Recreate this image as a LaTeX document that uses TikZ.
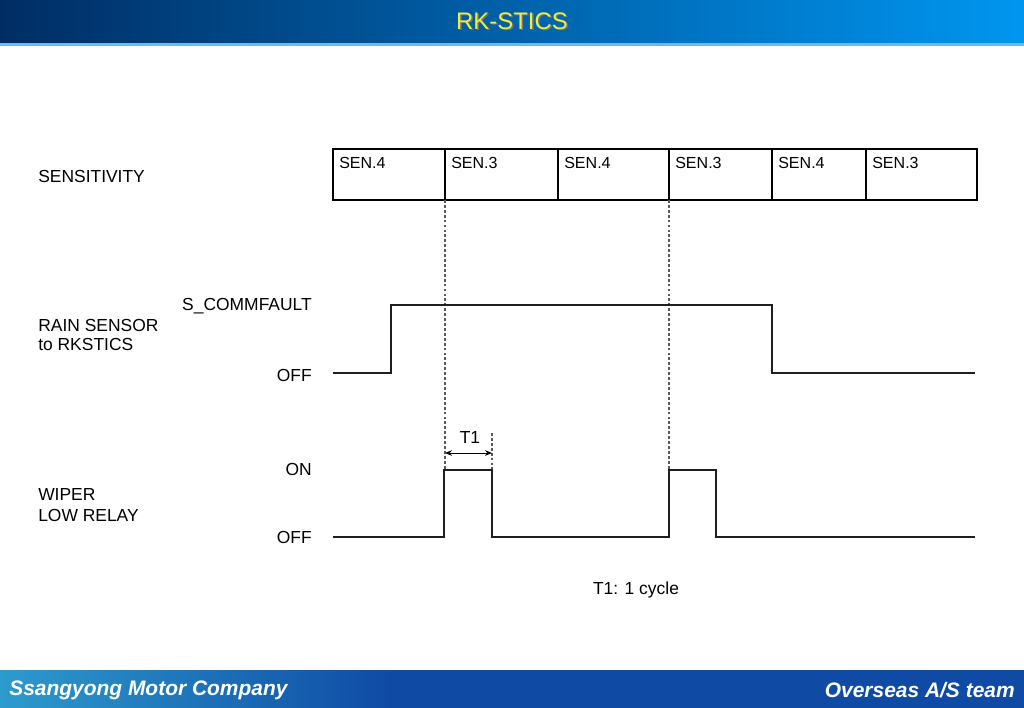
\documentclass[tikz,border=0pt]{standalone}
\usepackage{fontspec}
\setmainfont{Liberation Sans}
\usepackage{xcolor}
\definecolor{HeadDark}{RGB}{0,45,100}
\definecolor{HeadLight}{RGB}{0,150,240}
\definecolor{HeadLine}{RGB}{110,185,240}
\definecolor{TitleYellow}{RGB}{235,240,60}
\definecolor{FootMid}{RGB}{45,155,205}
\definecolor{FootCyan}{RGB}{95,200,225}
\definecolor{FootDark}{RGB}{15,75,165}
\definecolor{SigGray}{RGB}{30,30,30}
\usepackage{tikz}
\usetikzlibrary{arrows.meta,positioning}

\tikzset{
  lbl/.style={font=\fontsize{12.4}{14}\selectfont, anchor=base west, inner sep=0pt},
  lvl/.style={font=\fontsize{12.4}{14}\selectfont, anchor=east, inner sep=0pt},
  sentext/.style={font=\fontsize{11.4}{13}\selectfont, anchor=west, inner sep=0pt},
  foot/.style={font=\bfseries\itshape\fontsize{14.9}{17}\selectfont, white, inner sep=0pt},
  sig/.style={line width=1.4pt, SigGray},
  guide/.style={line width=0.8pt, black!65, dash pattern=on 2pt off 1.5pt},
}

\begin{document}
\begin{tikzpicture}[x=0.025cm,y=-0.025cm]
  \useasboundingbox (0,0) rectangle (1024,708);
  \fill[white] (0,0) rectangle (1024,708);

  \shade[left color=HeadDark,right color=HeadLight] (0,0) rectangle (1024,43);
  \fill[HeadLine] (0,43) rectangle (1024,46);
  \node[font=\fontsize{17}{20}\selectfont, black!55] (titleshadow) at (513.5,22.5) {RK-STICS};
  \node[font=\fontsize{17}{20}\selectfont, TitleYellow] (title) at (512,21) {RK-STICS};

  \shade[left color=FootMid,middle color=FootCyan,right color=FootDark] (0,670) rectangle (390,708);
  \fill[FootDark] (390,670) rectangle (1024,708);
  \node[foot, anchor=west] (company) at (9,690) {Ssangyong Motor Company};
  \node[foot, anchor=east] (team) at (1015,690) {Overseas A/S team};

  \node[lbl] (sens) at (38,183) {SENSITIVITY};
  \draw[line width=1.4pt] (333,149) rectangle (977,200);
  \foreach \x in {445,558,669,772,866}
    \draw[line width=1pt] (\x,149) -- (\x,200);
  \foreach \x/\t [count=\i] in {339/SEN.4,451/SEN.3,564/SEN.4,675/SEN.3,778/SEN.4,872/SEN.3}
    \node[sentext] (sen\i) at (\x,163) {\t};

  \coordinate (g1top) at (445,200);
  \coordinate (g1bot) at (445,470);
  \coordinate (g2top) at (669,200);
  \coordinate (g2bot) at (669,470);
  \coordinate (g3top) at (492,433);
  \coordinate (g3bot) at (492,470);
  \draw[guide] (g1top) -- (g1bot);
  \draw[guide] (g2top) -- (g2bot);
  \draw[guide] (g3top) -- (g3bot);

  \node[lbl] (rain1) at (38,331) {RAIN SENSOR};
  \node[lbl] (rain2) at (38,350) {to RKSTICS};
  \node[lvl, anchor=base east] (fault) at (312,310) {S\_COMMFAULT};
  \node[lvl] (roff) at (312,375) {OFF};
  \draw[sig] (333,373) -- (391,373) -- (391,305) -- (772,305) -- (772,373) -- (975,373);

  \node[lbl] (wip1) at (38,500) {WIPER};
  \node[lbl] (wip2) at (38,521) {LOW RELAY};
  \node[lvl] (won) at (312,469) {ON};
  \node[lvl] (woff) at (312,537) {OFF};
  \draw[sig] (333,537) -- (444,537) -- (444,470) -- (492,470) -- (492,537)
    -- (669,537) -- (669,470) -- (716,470) -- (716,537) -- (975,537);

  \coordinate (t1a) at (445,453);
  \coordinate (t1b) at (492,453);
  \draw[{Stealth[length=5pt,width=4pt]}-{Stealth[length=5pt,width=4pt]}, line width=0.7pt] (t1a) -- (t1b);
  \node[font=\fontsize{12.4}{14}\selectfont, inner sep=0pt] (t1) at (470,437) {T1};
  \node[font=\fontsize{12.4}{14}\selectfont, inner sep=0pt] (cycle) at (636,590) {T1: 1 cycle};
\end{tikzpicture}
\end{document}
